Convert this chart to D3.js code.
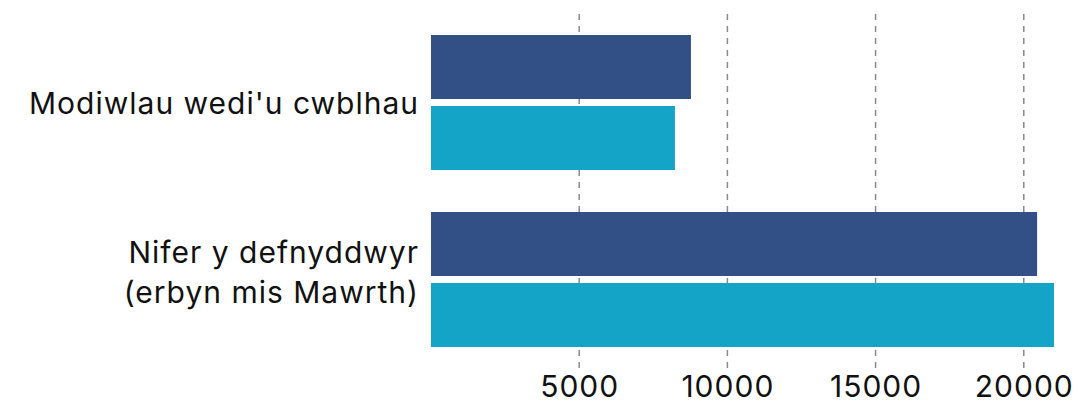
<!DOCTYPE html>
<html>
<head>
<meta charset="utf-8">
<script src="https://cdn.jsdelivr.net/npm/d3@7"></script>
<style>
  html, body { margin: 0; padding: 0; background: #fff; }
  svg { display: block; font-family: Inter, "Noto Sans", sans-serif; }
  .grid line { stroke: #8a8a8a; stroke-width: 1.5; stroke-dasharray: 6 6; }
  .label { fill: #111; font-size: 30px; letter-spacing: 1px; }
  .tick-label { fill: #111; font-size: 30px; letter-spacing: 1px; }
</style>
</head>
<body>
<div id="chart"></div>
<script>
'use strict';

// categories (each entry is a list of lines)
const categories = ["Modiwlau wedi'u cwblhau", 'Nifer y defnyddwyr (erbyn mis Mawrth)'];
const categoryLines = [["Modiwlau wedi'u cwblhau"], ['Nifer y defnyddwyr', '(erbyn mis Mawrth)']];
const seriesKeys = ['cyfres1', 'cyfres2'];
const series1 = [8770, 20450];
const series2 = [8230, 21020];
const tickValues = [5000, 10000, 15000, 20000];
const colors = ['#325085', '#13a4c8'];

const width = 1080, height = 402;
const $svg = d3.select('#chart').append('svg')
  .attr('width', width)
  .attr('height', height);

const rows = categories.map((c, i) => ({ cat: c, lines: categoryLines[i], values: [series1[i], series2[i]] }));

const x = d3.scaleLinear()
  .domain([0, d3.max(series1.concat(series2))])
  .range([431, 1054]);

const y = d3.scaleBand()
  .domain(categories)
  .range([14, 368])
  .paddingInner(42 / 177)
  .paddingOuter(21 / 177);

const ySub = d3.scaleBand()
  .domain(seriesKeys)
  .range([0, y.bandwidth()])
  .paddingInner(7 / 71);

// grid
$svg.append('g').attr('class', 'grid').selectAll('line')
  .data(tickValues)
  .enter()
  .append('line')
  .attr('x1', (d) => x(d))
  .attr('x2', (d) => x(d))
  .attr('y1', 14)
  .attr('y2', 370);

// bars
const $groups = $svg.append('g').selectAll('.group')
  .data(rows)
  .enter()
  .append('g')
  .attr('class', 'group')
  .attr('transform', (d) => 'translate(0,' + y(d.cat) + ')');

$groups.selectAll('rect')
  .data((d) => d.values.map((v, i) => ({ key: seriesKeys[i], value: v, i: i })))
  .enter()
  .append('rect')
  .attr('x', x(0))
  .attr('y', (d) => ySub(d.key))
  .attr('width', (d) => x(d.value) - x(0))
  .attr('height', ySub.bandwidth())
  .attr('fill', (d) => colors[d.i]);

// category labels
$groups.append('text')
  .attr('class', 'label')
  .attr('text-anchor', 'end')
  .each(function (d) {
    const mid = y.bandwidth() / 2;
    const n = d.lines.length;
    const $t = d3.select(this);
    d.lines.forEach((line, j) => {
      const base = n === 1 ? mid + 11 : mid - 17 + j * 40;
      $t.append('tspan')
        .attr('x', 419)
        .attr('y', base)
        .text(line);
    });
  });

// x axis tick labels
$svg.append('g').selectAll('.tick-label')
  .data(tickValues)
  .enter()
  .append('text')
  .attr('class', 'tick-label')
  .attr('x', (d) => x(d) + 0.5)
  .attr('y', 397)
  .attr('text-anchor', 'middle')
  .text((d) => d);
</script>
</body>
</html>
